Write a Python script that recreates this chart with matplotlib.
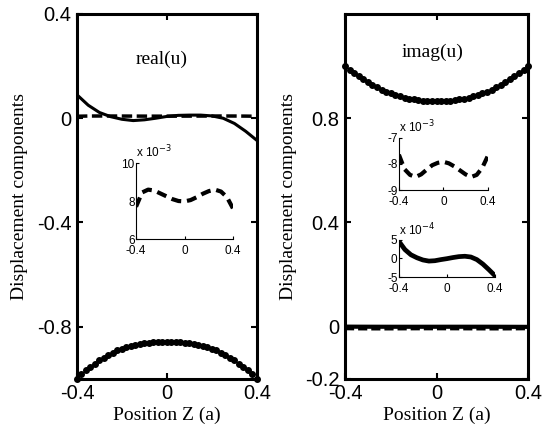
import numpy as np
import matplotlib
matplotlib.use('Agg')
import matplotlib.pyplot as plt

# positions along z (in units of a)
z_dots = np.linspace(-0.4, 0.4, 41)
z_line = np.linspace(-0.4, 0.4, 17)

# dotted component, real part
real_dots = [-1.000, -0.980, -0.965, -0.953, -0.941, -0.929, -0.918, -0.908, -0.899, -0.891,
             -0.884, -0.878, -0.873, -0.869, -0.866, -0.863, -0.861, -0.859, -0.858, -0.857,
             -0.857,
             -0.857, -0.858, -0.859, -0.861, -0.863, -0.866, -0.869, -0.873, -0.878, -0.884,
             -0.891, -0.899, -0.908, -0.918, -0.929, -0.941, -0.953, -0.965, -0.980, -1.000]

# dotted component, imaginary part
imag_dots = [1.000, 0.986, 0.973, 0.962, 0.951, 0.940, 0.929, 0.919, 0.910, 0.902,
             0.895, 0.889, 0.884, 0.879, 0.875, 0.872, 0.870, 0.868, 0.867, 0.866,
             0.866,
             0.866, 0.867, 0.868, 0.870, 0.872, 0.875, 0.879, 0.884, 0.889, 0.895,
             0.902, 0.910, 0.919, 0.929, 0.940, 0.951, 0.962, 0.973, 0.986, 1.000]

# solid component, real part
real_solid = [0.090, 0.050, 0.022, 0.006, -0.004, -0.009, -0.006, 0.000, 0.007,
              0.011, 0.012, 0.012, 0.009, 0.000, -0.020, -0.050, -0.085]

# dashed component, real part (x 1e-3)
real_dash = [7.7, 8.45, 8.6, 8.55, 8.4, 8.25, 8.1, 8.0, 7.98,
             8.05, 8.2, 8.38, 8.52, 8.6, 8.5, 8.2, 7.6]

# dashed component, imaginary part (x 1e-3)
imag_dash = [-7.65, -8.2, -8.42, -8.5, -8.4, -8.22, -8.05, -7.96, -7.92,
             -7.98, -8.1, -8.25, -8.4, -8.5, -8.42, -8.15, -7.7]

# solid component, imaginary part (x 1e-4)
imag_solid = [4.6, 2.4, 1.0, 0.2, -0.4, -0.7, -0.6, -0.3, -0.05,
              0.25, 0.5, 0.6, 0.4, -0.3, -1.5, -3.0, -4.6]

sans = 'Liberation Sans'
serif = 'Liberation Serif'

fig = plt.figure(figsize=(5.42, 4.37), dpi=100)


def style_main(ax):
    for s in ax.spines.values():
        s.set_linewidth(2.2)
    ax.tick_params(direction='in', length=4, width=1.5, top=True, right=True,
                   labelsize=14.5, pad=4)
    ax.set_xlim(-0.4, 0.4)
    ax.set_xticks([-0.4, 0, 0.4])
    ax.set_xticklabels(['-0.4', '0', '0.4'], family=sans)
    ax.set_xlabel('Position Z (a)', family=serif, fontsize=14, labelpad=2)
    ax.set_ylabel('Displacement components', family=serif, fontsize=14, labelpad=6)


def style_inset(ax, ylim, yticks, exp):
    ax.spines['top'].set_visible(False)
    ax.spines['right'].set_visible(False)
    for s in ['left', 'bottom']:
        ax.spines[s].set_linewidth(0.8)
    ax.set_xlim(-0.4, 0.4)
    ax.set_ylim(*ylim)
    ax.set_xticks([-0.4, 0, 0.4])
    ax.set_xticklabels(['-0.4', '0', '0.4'], family=sans)
    ax.set_yticks(yticks)
    ax.set_yticklabels([str(v) for v in yticks], family=sans)
    ax.tick_params(direction='in', length=2.5, width=0.8, labelsize=8.5)
    ax.tick_params(axis='y', pad=1)
    ax.tick_params(axis='x', pad=4.5)
    ax.patch.set_alpha(0)
    ax.text(0.0, 1.04, r'x 10$^{%d}$' % exp, transform=ax.transAxes,
            family=sans, fontsize=8.5, ha='left', va='bottom')


# left panel: real(u)
ax1 = fig.add_axes([0.142, 0.133, 0.332, 0.835])
ax1.plot(z_line, np.array(real_dash) * 1e-3, color='black', lw=2.5, dashes=(3, 1.3))
ax1.plot(z_line, real_solid, color='black', lw=2.2)
ax1.plot(z_dots, real_dots, 'o', color='black', ms=4.0, clip_on=False)
ax1.set_ylim(-1.0, 0.4)
ax1.set_yticks([-0.8, -0.4, 0, 0.4])
ax1.set_yticklabels(['-0.8', '-0.4', '0', '0.4'], family=sans)
style_main(ax1)
ax1.text(0.47, 0.875, 'real(u)', transform=ax1.transAxes, family=serif,
         fontsize=14, ha='center', va='center')

# right panel: imag(u)
ax2 = fig.add_axes([0.6365, 0.133, 0.338, 0.835])
ax2.plot(z_line, np.array(imag_dash) * 1e-3, color='black', lw=2.2, dashes=(3, 1.3))
ax2.plot(z_line, np.array(imag_solid) * 1e-4, color='black', lw=3.0)
ax2.plot(z_dots, imag_dots, 'o', color='black', ms=4.0, clip_on=False)
ax2.set_ylim(-0.2, 1.2)
ax2.set_yticks([-0.2, 0, 0.4, 0.8])
ax2.set_yticklabels(['-0.2', '0', '0.4', '0.8'], family=sans)
style_main(ax2)
ax2.text(0.48, 0.895, 'imag(u)', transform=ax2.transAxes, family=serif,
         fontsize=14, ha='center', va='center')

# insets
in1 = fig.add_axes([0.251, 0.453, 0.179, 0.174])
in1.plot(z_line, real_dash, color='black', lw=3.0, dashes=(2.4, 1.4))
style_inset(in1, (6, 10), [6, 8, 10], -3)

in2 = fig.add_axes([0.736, 0.565, 0.164, 0.12])
in2.plot(z_line, imag_dash, color='black', lw=3.0, dashes=(2.4, 1.4))
style_inset(in2, (-9, -7), [-9, -8, -7], -3)

in3 = fig.add_axes([0.736, 0.366, 0.177, 0.085])
in3.plot(z_line, imag_solid, color='black', lw=3.4)
style_inset(in3, (-5, 5), [-5, 0, 5], -4)

fig.savefig('out.png', dpi=100)
